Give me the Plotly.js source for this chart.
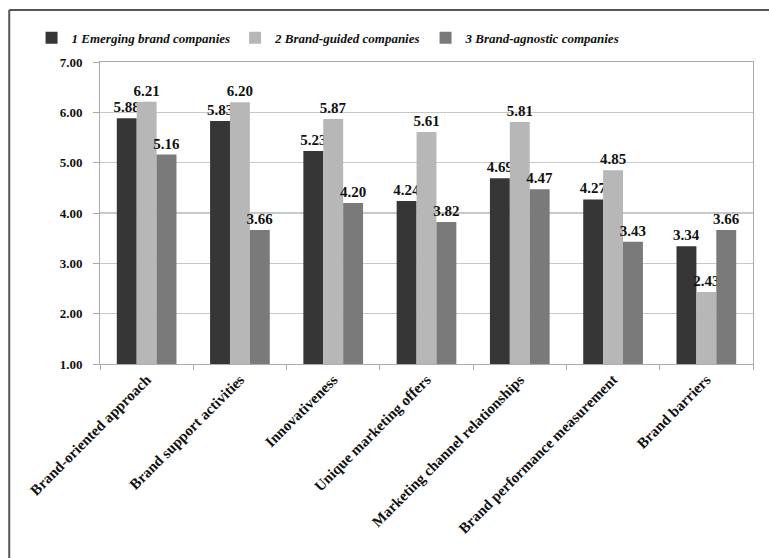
<!DOCTYPE html>
<html>
<head>
<meta charset="utf-8">
<script src="https://cdn.plot.ly/plotly-3.0.1.min.js"></script>
<style>
html,body{margin:0;padding:0;background:#fff;}
#chart{width:769px;height:558px;}
</style>
</head>
<body>
<div id="chart"></div>
<script>
const categories = [
  "Brand-oriented approach",
  "Brand support activities",
  "Innovativeness",
  "Unique marketing offers",
  "Marketing channel relationships",
  "Brand performance measurement",
  "Brand barriers"
];
const seriesNames = [
  "1 Emerging brand companies",
  "2 Brand-guided companies",
  "3 Brand-agnostic companies"
];
const emerging = [5.88, 5.83, 5.23, 4.24, 4.69, 4.27, 3.34];
const guided   = [6.21, 6.20, 5.87, 5.61, 5.81, 4.85, 2.43];
const agnostic = [5.16, 3.66, 4.20, 3.82, 4.47, 3.43, 3.66];
const yTicks = [1, 2, 3, 4, 5, 6, 7];

const colors = ["#363636", "#b7b7b7", "#7a7a7a"];
const font = "'Liberation Serif', 'Times New Roman', serif";

function mk(vals, i) {
  return {
    type: "bar",
    name: seriesNames[i],
    x: categories,
    y: vals,
    marker: {color: colors[i], line: {width: 0}},
    text: vals.map(v => v.toFixed(2)),
    textposition: "outside",
    constraintext: "none",
    textfont: {family: font, size: 15, color: "#111", weight: "bold"},
    cliponaxis: false,
    hoverinfo: "x+y"
  };
}

const data = [mk(emerging, 0), mk(guided, 1), mk(agnostic, 2)];

const layout = {
  width: 769,
  height: 558,
  margin: {l: 100, r: 16, t: 62, b: 194},
  paper_bgcolor: "#fff",
  plot_bgcolor: "#fff",
  barmode: "group",
  bargap: 0.36,
  bargroupgap: 0,
  font: {family: font, color: "#111"},
  showlegend: true,
  legend: {
    orientation: "h",
    x: 0.35, xanchor: "center",
    y: 1.08, yanchor: "middle",
    font: {family: font, size: 13, style: "italic", weight: "bold", color: "#111"},
    itemwidth: 30,
    tracegroupgap: 0,
    bgcolor: "rgba(0,0,0,0)"
  },
  xaxis: {
    type: "category",
    tickangle: -45,
    tickson: "boundaries",
    ticks: "outside",
    ticklen: 5,
    tickcolor: "#aaa",
    showline: true,
    linecolor: "#aaa",
    linewidth: 1,
    mirror: true,
    showgrid: false,
    tickfont: {family: font, size: 15, weight: "bold", color: "#111"}
  },
  yaxis: {
    range: [1, 7],
    tickvals: yTicks,
    ticktext: yTicks.map(v => v.toFixed(2)),
    ticks: "outside",
    ticklen: 6,
    tickcolor: "#aaa",
    showline: true,
    linecolor: "#aaa",
    linewidth: 1,
    mirror: true,
    showgrid: true,
    gridcolor: "#c8c8c8",
    gridwidth: 1.5,
    zeroline: false,
    ticklabelstandoff: 8,
    tickfont: {family: font, size: 13, weight: "bold", color: "#111"}
  },
  shapes: [
    {type: "line", xref: "paper", yref: "paper", x0: -0.139, x1: -0.139, y0: -0.7, y1: 1.172,
     line: {color: "#555", width: 2}},
    {type: "line", xref: "paper", yref: "paper", x0: -0.139, x1: 1.05, y0: 1.172, y1: 1.172,
     line: {color: "#555", width: 2}}
  ]
};

Plotly.newPlot("chart", data, layout, {displayModeBar: false, staticPlot: true});
</script>
</body>
</html>
